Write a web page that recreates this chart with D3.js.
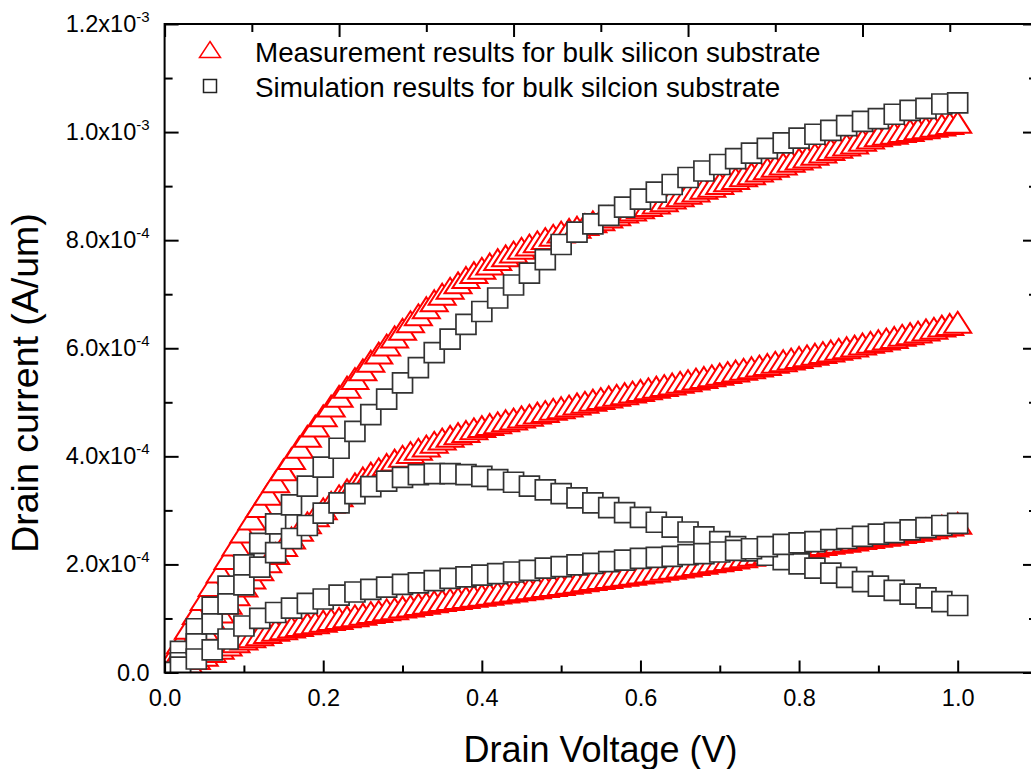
<!DOCTYPE html>
<html>
<head>
<meta charset="utf-8">
<script src="https://cdn.jsdelivr.net/npm/d3@7"></script>
<style>
  body { margin: 0; background: #fff; }
  svg { display: block; font-family: Arial, "Liberation Sans", sans-serif; }
</style>
</head>
<body>
<div id="chart"></div>
<script>
// drain voltage sweeps (V)
var vMeas = [0.00,0.01,0.02,0.03,0.04,0.05,0.06,0.07,0.08,0.09,
             0.10,0.11,0.12,0.13,0.14,0.15,0.16,0.17,0.18,0.19,
             0.20,0.21,0.22,0.23,0.24,0.25,0.26,0.27,0.28,0.29,
             0.30,0.31,0.32,0.33,0.34,0.35,0.36,0.37,0.38,0.39,
             0.40,0.41,0.42,0.43,0.44,0.45,0.46,0.47,0.48,0.49,
             0.50,0.51,0.52,0.53,0.54,0.55,0.56,0.57,0.58,0.59,
             0.60,0.61,0.62,0.63,0.64,0.65,0.66,0.67,0.68,0.69,
             0.70,0.71,0.72,0.73,0.74,0.75,0.76,0.77,0.78,0.79,
             0.80,0.81,0.82,0.83,0.84,0.85,0.86,0.87,0.88,0.89,
             0.90,0.91,0.92,0.93,0.94,0.95,0.96,0.97,0.98,0.99,
             1.00];
var vSim = [0.00,0.02,0.04,0.06,0.08,0.10,0.12,0.14,0.16,0.18,
            0.20,0.22,0.24,0.26,0.28,0.30,0.32,0.34,0.36,0.38,
            0.40,0.42,0.44,0.46,0.48,0.50,0.52,0.54,0.56,0.58,
            0.60,0.62,0.64,0.66,0.68,0.70,0.72,0.74,0.76,0.78,
            0.80,0.82,0.84,0.86,0.88,0.90,0.92,0.94,0.96,0.98,
            1.00];

// drain current, in units of 1e-3 A/um
var measHigh = [0.000,0.028,0.055,0.082,0.109,0.135,0.161,0.186,0.211,0.236,
                0.260,0.284,0.307,0.330,0.353,0.375,0.396,0.417,0.437,0.456,
                0.475,0.493,0.511,0.528,0.544,0.560,0.576,0.591,0.606,0.621,
                0.635,0.649,0.662,0.675,0.688,0.700,0.711,0.721,0.731,0.740,
                0.748,0.756,0.764,0.771,0.778,0.785,0.791,0.797,0.803,0.809,
                0.815,0.820,0.824,0.829,0.834,0.838,0.843,0.847,0.852,0.856,
                0.860,0.864,0.869,0.873,0.878,0.882,0.887,0.891,0.896,0.900,
                0.905,0.910,0.914,0.919,0.923,0.928,0.932,0.937,0.941,0.946,
                0.950,0.954,0.959,0.963,0.968,0.972,0.976,0.980,0.985,0.989,
                0.993,0.996,0.998,1.001,1.003,1.006,1.008,1.011,1.013,1.016,
                1.018];
var measMid = [0.000,0.016,0.032,0.048,0.064,0.080,0.096,0.112,0.128,0.144,
               0.160,0.175,0.190,0.205,0.220,0.235,0.249,0.263,0.277,0.290,
               0.303,0.315,0.327,0.338,0.349,0.360,0.369,0.377,0.385,0.393,
               0.400,0.407,0.413,0.419,0.426,0.432,0.437,0.442,0.446,0.451,
               0.455,0.459,0.462,0.466,0.469,0.473,0.476,0.480,0.483,0.487,
               0.490,0.493,0.497,0.500,0.504,0.507,0.510,0.513,0.516,0.519,
               0.522,0.525,0.528,0.531,0.534,0.537,0.540,0.543,0.546,0.549,
               0.552,0.555,0.558,0.561,0.564,0.567,0.570,0.574,0.577,0.580,
               0.583,0.586,0.589,0.592,0.595,0.598,0.601,0.604,0.608,0.611,
               0.614,0.617,0.620,0.624,0.627,0.630,0.634,0.637,0.641,0.644,
               0.648];
var measLow = [0.000,0.006,0.013,0.019,0.026,0.032,0.039,0.045,0.051,0.057,
               0.062,0.066,0.070,0.074,0.078,0.081,0.084,0.087,0.090,0.092,
               0.095,0.098,0.100,0.103,0.105,0.108,0.111,0.113,0.116,0.118,
               0.121,0.123,0.126,0.128,0.131,0.133,0.135,0.137,0.139,0.141,
               0.143,0.145,0.147,0.149,0.151,0.153,0.155,0.157,0.159,0.161,
               0.163,0.165,0.167,0.170,0.172,0.174,0.176,0.178,0.180,0.182,
               0.184,0.186,0.188,0.191,0.193,0.195,0.197,0.200,0.202,0.205,
               0.207,0.209,0.212,0.214,0.217,0.219,0.221,0.223,0.226,0.228,
               0.230,0.232,0.234,0.237,0.239,0.241,0.243,0.245,0.248,0.250,
               0.252,0.254,0.256,0.259,0.261,0.263,0.266,0.268,0.271,0.273,
               0.276];

var simHigh = [0.000,0.039,0.081,0.121,0.160,0.199,0.239,0.275,0.310,0.345,
               0.380,0.415,0.446,0.477,0.506,0.536,0.564,0.592,0.617,0.644,
               0.668,0.693,0.717,0.739,0.764,0.792,0.815,0.830,0.846,0.861,
               0.876,0.889,0.903,0.916,0.928,0.940,0.951,0.961,0.970,0.980,
               0.989,0.996,1.003,1.012,1.020,1.025,1.033,1.040,1.044,1.052,
               1.054];
var simMid = [0.000,0.018,0.053,0.090,0.127,0.162,0.195,0.222,0.248,0.272,
              0.295,0.314,0.331,0.344,0.354,0.361,0.366,0.368,0.368,0.366,
              0.363,0.357,0.352,0.345,0.338,0.331,0.323,0.314,0.305,0.296,
              0.287,0.278,0.269,0.260,0.251,0.242,0.233,0.225,0.217,0.209,
              0.201,0.193,0.184,0.176,0.168,0.160,0.152,0.145,0.138,0.131,
              0.124];
var simLow = [0.000,0.010,0.025,0.042,0.062,0.086,0.100,0.111,0.119,0.128,
              0.136,0.143,0.149,0.154,0.158,0.163,0.166,0.170,0.174,0.177,
              0.180,0.183,0.186,0.189,0.193,0.196,0.199,0.202,0.205,0.208,
              0.211,0.213,0.215,0.218,0.220,0.223,0.226,0.229,0.233,0.237,
              0.240,0.242,0.246,0.248,0.252,0.256,0.259,0.264,0.268,0.272,
              0.276];

// ticks and labels
var xMajorTicks = [0, 0.2, 0.4, 0.6, 0.8, 1.0];
var xMinorTicks = [0.1, 0.3, 0.5, 0.7, 0.9];
var xTickLabels = ["0.0", "0.2", "0.4", "0.6", "0.8", "1.0"];
var topMajorTicks = [0, 0.2, 0.4, 0.6, 0.8, 1.0];
var topMinorTicks = [0.1, 0.3, 0.5, 0.7, 0.9];
var yMajorTicks = [0, 0.2, 0.4, 0.6, 0.8, 1.0, 1.2];
var yMinorTicks = [0.1, 0.3, 0.5, 0.7, 0.9, 1.1];
var yTickMantissa = ["0.0", "2.0", "4.0", "6.0", "8.0", "1.0", "1.2"];
var yTickExponent = ["", "-4", "-4", "-4", "-4", "-3", "-3"];

var legendLabels = ["Measurement results for bulk silicon substrate",
                    "Simulation results for bulk silcion substrate"];

function init() {
  var w = 1031;
  var h = 769;
  var left = 164.6, right = 1037, top = 24, bottom = 672.5;

  var x = d3.scaleLinear().domain([0, 1.1]).range([left, right]);
  var xTop = d3.scaleLinear().domain([0, 1.0]).range([left, right]);
  var y = d3.scaleLinear().domain([0, 1.2]).range([bottom, top]);

  var svg = d3.select("#chart")
    .append("svg")
    .attr("width", w)
    .attr("height", h);

  svg.append("defs").append("clipPath")
    .attr("id", "plotClip")
    .append("rect")
    .attr("x", left)
    .attr("y", top)
    .attr("width", right - left)
    .attr("height", bottom - top);

  var triW = 27, triH = 21;
  function triangle(tw, th) {
    return "M0," + (-th / 2) + "L" + (tw / 2) + "," + (th / 2) + "L" + (-tw / 2) + "," + (th / 2) + "Z";
  }
  var square = d3.symbol().type(d3.symbolSquare).size(400);

  var plot = svg.append("g").attr("clip-path", "url(#plotClip)");

  // measured curves first, simulation squares drawn over them
  [measHigh, measMid, measLow].forEach(function(series) {
    plot.append("g")
      .selectAll("path")
      .data(series)
      .enter()
      .append("path")
      .attr("d", triangle(triW, triH))
      .attr("transform", function(d, i) { return "translate(" + x(vMeas[i]) + "," + y(d) + ")"; })
      .style("fill", "#fff")
      .style("stroke", "#ff0000")
      .style("stroke-width", 2);
  });

  [simHigh, simMid, simLow].forEach(function(series) {
    plot.append("g")
      .selectAll("path")
      .data(series)
      .enter()
      .append("path")
      .attr("d", square)
      .attr("transform", function(d, i) { return "translate(" + x(vSim[i]) + "," + y(d) + ")"; })
      .style("fill", "#fff")
      .style("stroke", "#333")
      .style("stroke-width", 1.7);
  });

  // axes, ticks pointing inward
  function styleAxis(g) {
    g.select(".domain").remove();
    g.selectAll(".tick line").style("stroke", "#000").style("stroke-width", 2);
    g.selectAll("text").style("fill", "#000").style("font-size", "23.5px");
  }

  svg.append("g")
    .attr("transform", "translate(0," + bottom + ")")
    .call(d3.axisBottom(x).tickValues(xMajorTicks).tickSize(-12).tickPadding(17)
      .tickFormat(function(d, i) { return xTickLabels[i]; }))
    .call(styleAxis);
  svg.append("g")
    .attr("transform", "translate(0," + bottom + ")")
    .call(d3.axisBottom(x).tickValues(xMinorTicks).tickSize(-7).tickFormat(""))
    .call(styleAxis);

  svg.append("g")
    .attr("transform", "translate(0," + top + ")")
    .call(d3.axisTop(xTop).tickValues(topMajorTicks).tickSize(-13).tickFormat(""))
    .call(styleAxis);
  svg.append("g")
    .attr("transform", "translate(0," + top + ")")
    .call(d3.axisTop(xTop).tickValues(topMinorTicks).tickSize(-8).tickFormat(""))
    .call(styleAxis);

  var yAxis = svg.append("g")
    .attr("transform", "translate(" + left + ",0)")
    .call(d3.axisLeft(y).tickValues(yMajorTicks).tickSize(-14).tickPadding(15))
    .call(styleAxis);
  yAxis.selectAll(".tick text")
    .text(null)
    .each(function(d, i) {
      var t = d3.select(this);
      if (yTickExponent[i] === "") {
        t.text(yTickMantissa[i]);
        return;
      }
      t.append("tspan").text(yTickMantissa[i] + "x10");
      t.append("tspan")
        .attr("dy", -10)
        .style("font-size", "15px")
        .text(yTickExponent[i]);
    });
  svg.append("g")
    .attr("transform", "translate(" + left + ",0)")
    .call(d3.axisLeft(y).tickValues(yMinorTicks).tickSize(-8).tickFormat(""))
    .call(styleAxis);

  svg.append("g")
    .attr("transform", "translate(" + right + ",0)")
    .call(d3.axisRight(y).tickValues(yMajorTicks).tickSize(-14).tickFormat(""))
    .call(styleAxis);
  svg.append("g")
    .attr("transform", "translate(" + right + ",0)")
    .call(d3.axisRight(y).tickValues(yMinorTicks).tickSize(-8).tickFormat(""))
    .call(styleAxis);

  // frame
  svg.append("rect")
    .attr("x", left)
    .attr("y", top)
    .attr("width", right - left)
    .attr("height", bottom - top)
    .style("fill", "none")
    .style("stroke", "#000")
    .style("stroke-width", 2);

  // axis titles
  svg.append("text")
    .attr("x", 600.5)
    .attr("y", 761.5)
    .attr("text-anchor", "middle")
    .style("font-size", "36px")
    .style("fill", "#000")
    .text("Drain Voltage (V)");

  svg.append("text")
    .attr("transform", "translate(38,383) rotate(-90)")
    .attr("text-anchor", "middle")
    .style("font-size", "37.5px")
    .style("fill", "#000")
    .text("Drain current (A/um)");

  // legend
  var legend = svg.append("g");
  legend.append("path")
    .attr("d", triangle(21, 16))
    .attr("transform", "translate(210,49.5)")
    .style("fill", "#fff")
    .style("stroke", "#ff0000")
    .style("stroke-width", 1.5);
  legend.append("path")
    .attr("d", d3.symbol().type(d3.symbolSquare).size(169))
    .attr("transform", "translate(210,86)")
    .style("fill", "#fff")
    .style("stroke", "#222")
    .style("stroke-width", 1.5);
  legend.selectAll("text")
    .data(legendLabels)
    .enter()
    .append("text")
    .attr("x", 255)
    .attr("y", function(d, i) { return 61.5 + i * 35; })
    .style("font-size", "27.8px")
    .style("fill", "#000")
    .text(function(d) { return d; });
}

window.onload = init;
</script>
</body>
</html>
